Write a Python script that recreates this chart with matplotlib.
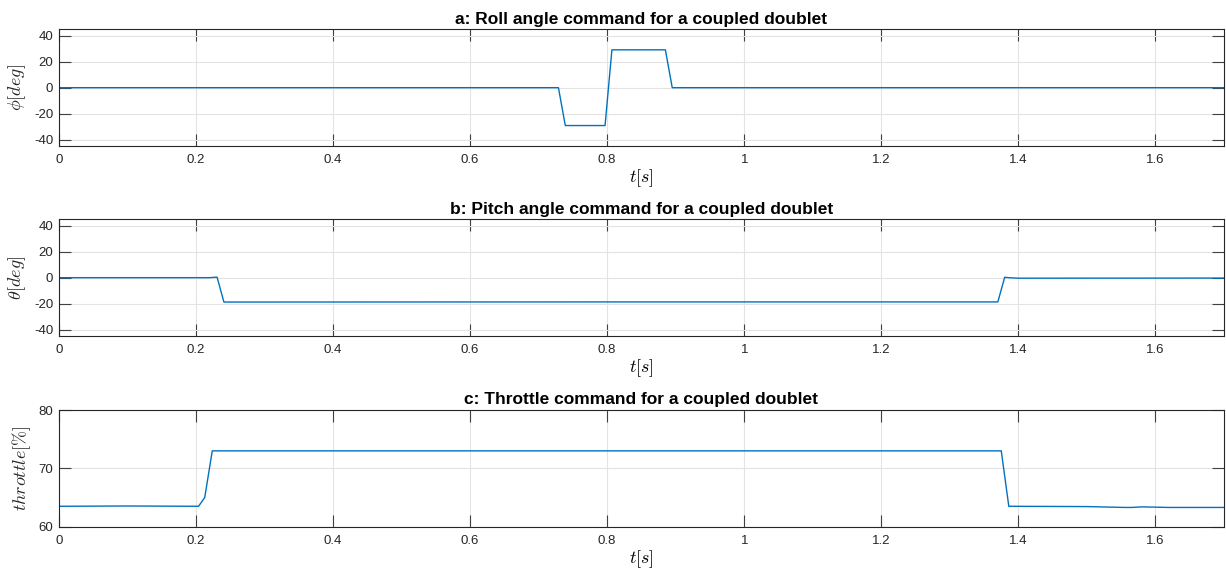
import numpy as np
import matplotlib.pyplot as plt
from matplotlib.ticker import FuncFormatter

# roll angle command (deg)
t_roll = [0.0, 0.729, 0.739, 0.797, 0.807, 0.885, 0.895, 1.70]
phi = [0.0, 0.0, -29.2, -29.2, 29.2, 29.2, 0.0, 0.0]

# pitch angle command (deg)
t_pitch = [0.0, 0.220, 0.231, 0.241, 0.80, 1.370, 1.380, 1.386, 1.40, 1.70]
theta = [0.0, 0.0, 0.4, -18.8, -18.7, -18.7, 0.3, 0.0, -0.4, -0.3]

# throttle command (%)
t_thr = [0.0, 0.10, 0.204, 0.213, 0.224, 1.375, 1.386, 1.50, 1.555, 1.565, 1.58, 1.62, 1.70]
thr = [63.5, 63.55, 63.5, 65.0, 73.0, 73.0, 63.5, 63.45, 63.3, 63.3, 63.4, 63.3, 63.3]

titles = ['a: Roll angle command for a coupled doublet',
          'b: Pitch angle command for a coupled doublet',
          'c: Throttle command for a coupled doublet']
ylabels = [r'$\phi[deg]$', r'$\theta[deg]$', r'$throttle[\%]$']

plt.rcParams['mathtext.fontset'] = 'cm'
plt.rcParams['font.family'] = 'Liberation Sans'
plt.rcParams['axes.unicode_minus'] = False

fig = plt.figure(figsize=(12.26, 5.74), dpi=100)
bottoms = [0.7456, 0.4146, 0.0824]
series = [(t_roll, phi), (t_pitch, theta), (t_thr, thr)]
ylims = [(-45, 45), (-45, 45), (60, 80)]
yticks = [[-40, -20, 0, 20, 40], [-40, -20, 0, 20, 40], [60, 70, 80]]

for i in range(3):
    ax = fig.add_axes([0.0479, bottoms[i], 0.9505, 0.2033])
    x, y = series[i]
    ax.plot(x, y, color='#0072BD', lw=1.0)
    ax.set_xlim(0, 1.7)
    ax.set_ylim(*ylims[i])
    ax.set_xticks(np.arange(0, 1.61, 0.2))
    ax.set_yticks(yticks[i])
    ax.xaxis.set_major_formatter(FuncFormatter(lambda v, p: f'{v:g}'))
    ax.grid(True, color='#e3e3e3', lw=0.8)
    ax.set_axisbelow(True)
    ax.tick_params(direction='in', top=True, right=True, length=8.5, width=0.8,
                   color='#404040', labelcolor='#262626', labelsize=9.5, pad=4)
    ax.tick_params(axis='x', pad=6)
    for s in ax.spines.values():
        s.set_color('#262626')
        s.set_linewidth(0.8)
    ax.set_title(titles[i], fontsize=12.5, fontweight='bold', pad=4)
    ax.set_xlabel(r'$t[s]$', fontsize=13, labelpad=1)
    ax.set_ylabel(ylabels[i], fontsize=13, labelpad=4, color='#262626')

fig.savefig('out.png', dpi=100)
